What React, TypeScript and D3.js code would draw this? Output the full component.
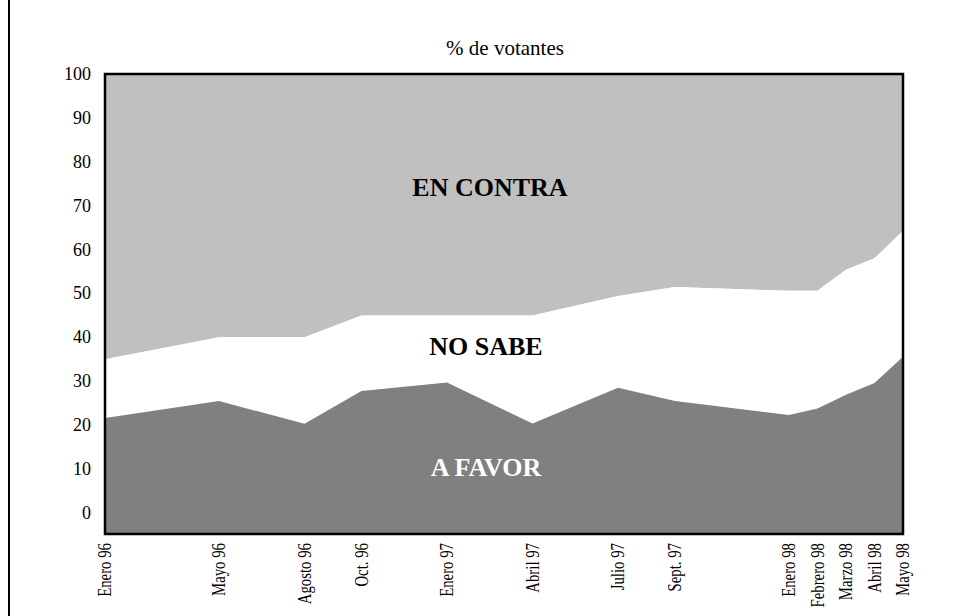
import React from "react";
import * as d3 from "d3";

const months = ["Enero 96", "Mayo 96", "Agosto 96", "Oct. 96", "Enero 97", "Abril 97", "Julio 97", "Sept. 97", "Enero 98", "Febrero 98", "Marzo 98", "Abril 98", "Mayo 98"];
const monthIndex = [0, 4, 7, 9, 12, 15, 18, 20, 24, 25, 26, 27, 28];
const aFavor = [21.6, 25.5, 20.3, 27.8, 29.7, 20.4, 28.5, 25.5, 22.3, 23.8, 26.9, 29.6, 35.6];
const noSabe = [13.4, 14.5, 19.7, 17.2, 15.3, 24.6, 20.9, 26.0, 28.3, 26.8, 28.5, 28.4, 28.7];
const enContra = [65.0, 60.0, 60.0, 55.0, 55.0, 55.0, 50.6, 48.5, 49.4, 49.4, 44.6, 42.0, 35.7];
const yTicks = [0, 10, 20, 30, 40, 50, 60, 70, 80, 90, 100];

const W = 960, H = 616;
const left = 105, right = 903, top = 74, bottom = 534;

export default function App() {
  const x = d3.scaleLinear().domain([0, 28]).range([left, right]);
  const y = d3.scaleLinear().domain([-4.8, 100]).range([bottom, top]);
  const base = y.domain()[0];

  const rows = monthIndex.map((m, i) => ({
    m,
    f: aFavor[i],
    n: aFavor[i] + noSabe[i],
    c: aFavor[i] + noSabe[i] + enContra[i],
  }));

  const areaFavor = d3.area<any>().x(d => x(d.m)).y0(() => y(base)).y1(d => y(d.f));
  const areaNo = d3.area<any>().x(d => x(d.m)).y0(d => y(d.f)).y1(d => y(d.n));
  const areaContra = d3.area<any>().x(d => x(d.m)).y0(d => y(d.n)).y1(d => y(Math.min(100, d.c)));

  const serif = { fontFamily: '"Liberation Serif", "DejaVu Serif", serif' };

  return (
    <svg width={W} height={H} style={{ position: "absolute", left: 0, top: 0, background: "#fff", ...serif }}>
      <rect x={0} y={0} width={W} height={H} fill="#fff" />
      <line x1={9} y1={0} x2={9} y2={H} stroke="#000" strokeWidth={2} />
      <text x={505} y={55} textAnchor="middle" fontSize={21} style={serif}>% de votantes</text>

      <path d={areaContra(rows) || ""} fill="#c0c0c0" />
      <path d={areaNo(rows) || ""} fill="#ffffff" />
      <path d={areaFavor(rows) || ""} fill="#808080" />
      <rect x={left} y={top} width={right - left} height={bottom - top} fill="none" stroke="#000" strokeWidth={2.5} />

      {yTicks.map(t => (
        <text key={t} x={91} y={y(t)} textAnchor="end" dominantBaseline="central" fontSize={18} style={serif}>{t}</text>
      ))}

      {months.map((lab, i) => (
        <text key={lab}
          transform={`translate(${x(monthIndex[i]) + 6},543) rotate(-90) scale(0.78,1)`}
          textAnchor="end" fontSize={19} style={serif}>{lab}</text>
      ))}

      <text x={490} y={196} textAnchor="middle" fontSize={26} fontWeight="bold" style={serif}>EN CONTRA</text>
      <text x={486} y={355} textAnchor="middle" fontSize={26} fontWeight="bold" style={serif}>NO SABE</text>
      <text x={486} y={476} textAnchor="middle" fontSize={26} fontWeight="bold" fill="#fff" style={serif}>A FAVOR</text>
    </svg>
  );
}
